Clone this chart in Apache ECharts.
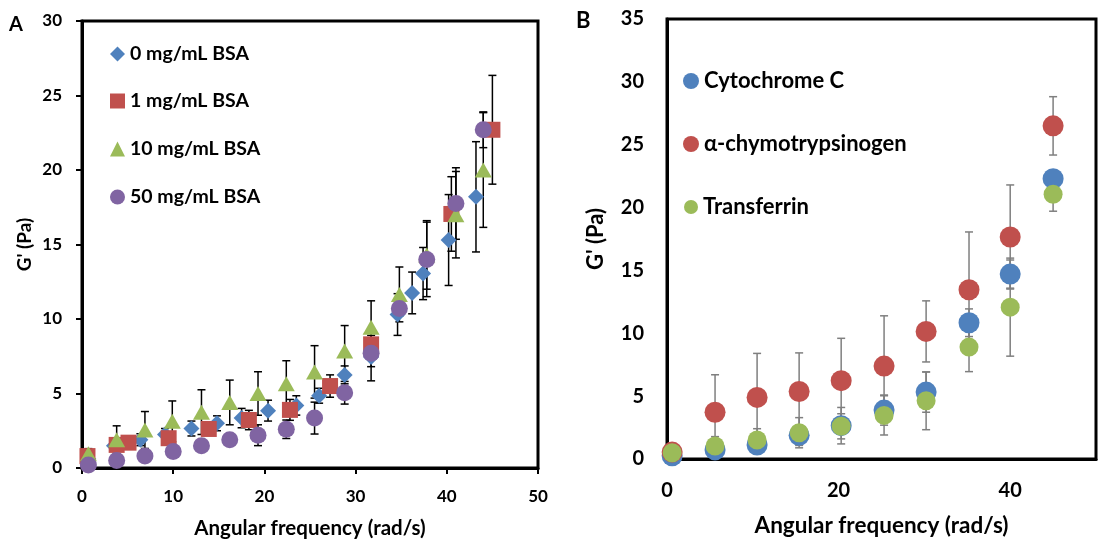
<!DOCTYPE html>
<html><head><meta charset="utf-8">
<script src="https://cdn.jsdelivr.net/npm/echarts@6/dist/echarts.min.js"></script>
<style>html,body{margin:0;padding:0;background:#fff}#c{width:1099px;height:544px}</style>
</head><body><div id="c"></div>
<script>
// ---------- Panel A: G' vs angular frequency at BSA concentrations ----------
const seriesNamesA = ['0 mg/mL BSA', '1 mg/mL BSA', '10 mg/mL BSA', '50 mg/mL BSA'];
const xTicksA = [0, 10, 20, 30, 40, 50];
const yTicksA = [0, 5, 10, 15, 20, 25, 30];

const freqA0 = [0.7, 3.5, 6.4, 9.1, 12.0, 14.8, 17.5, 20.4, 23.5, 26.0, 28.8, 31.7, 34.6, 36.2, 37.4, 40.2, 43.2];
const gA0    = [0.6, 1.5, 1.9, 2.25, 2.65, 3.0, 3.35, 3.85, 4.2, 4.85, 6.25, 7.45, 10.3, 11.75, 13.05, 15.3, 18.2];
const errA0  = [0.2, 0.3, 0.4, 0.4, 0.5, 0.5, 0.65, 0.7, 0.65, 0.5, 0.6, 1.6, 1.4, 1.4, 1.75, 3.05, 3.7];

const freqA1 = [0.6, 3.8, 5.1, 9.5, 13.9, 18.3, 22.8, 27.2, 31.7, 40.5, 45.0];
const gA1    = [0.8, 1.55, 1.7, 2.0, 2.62, 3.22, 3.9, 5.5, 8.3, 17.05, 22.7];
const errA1  = [0.4, 0.3, 0.3, 0.3, 0.35, 0.65, 0.7, 0.75, 0.6, 2.5, 3.65];

const freqA10 = [0.7, 3.8, 6.9, 9.9, 13.1, 16.2, 19.3, 22.4, 25.5, 28.8, 31.7, 34.8, 37.8, 41.0, 44.0];
const gA10    = [0.95, 1.9, 2.55, 3.13, 3.75, 4.4, 5.0, 5.65, 6.45, 7.85, 9.45, 11.65, 14.3, 17.0, 20.0];
const errA10  = [0.35, 0.93, 1.24, 1.37, 1.5, 1.5, 1.46, 1.55, 1.76, 1.71, 1.77, 1.84, 2.3, 2.9, 3.85];

const freqA50 = [0.7, 3.8, 6.9, 10.0, 13.1, 16.2, 19.3, 22.4, 25.5, 28.8, 31.7, 34.8, 37.8, 41.0, 44.0];
const gA50    = [0.2, 0.5, 0.8, 1.1, 1.5, 1.9, 2.2, 2.6, 3.35, 5.05, 7.7, 10.7, 14.0, 17.75, 22.7];
const errA50  = [0.2, 0.3, 0.3, 0.3, 0.3, 0.35, 0.7, 0.62, 1.07, 0.76, 0.9, 0.5, 2.5, 2.4, 1.2];

// ---------- Panel B: G' vs angular frequency for proteins ----------
const seriesNamesB = ['Cytochrome C', 'α-chymotrypsinogen', 'Transferrin'];
const xTicksB = [0, 20, 40];
const yTicksB = [0, 5, 10, 15, 20, 25, 30, 35];

const freqB     = [0.6, 5.6, 10.5, 15.4, 20.3, 25.3, 30.2, 35.2, 40.0, 45.0];
const cytC      = [0.25, 0.72, 1.11, 1.88, 2.65, 3.89, 5.32, 10.84, 14.71, 22.3];
const cytCErr   = [0.2, 0.4, 0.5, 0.8, 1.45, 1.2, 1.6, 1.1, 1.12, 0.6];
const chymo     = [0.55, 3.72, 4.9, 5.37, 6.23, 7.39, 10.15, 13.46, 17.66, 26.5];
const chymoErr  = [0.2, 2.98, 3.5, 3.07, 3.37, 4.0, 2.43, 4.6, 4.14, 2.32];
const transf    = [0.5, 1.03, 1.51, 2.09, 2.6, 3.47, 4.63, 8.9, 12.08, 21.06];
const transfErr = [0.2, 0.75, 0.9, 1.2, 1.0, 1.56, 2.3, 1.95, 3.9, 1.35];

const panelLabels = ['A', 'B'];

const colors = { blue: '#4F81BD', red: '#C0504D', green: '#9BBB59', purple: '#8064A2' };
const FONT = 'Lato';

function pts(x, y) { return x.map((v, i) => [v, y[i]]); }
function errPts(x, y, e) { return x.map((v, i) => [v, y[i], e[i]]); }

function errRenderer(color, lw, hw) {
  return function (params, api) {
    const x = api.value(0), y = api.value(1), e = api.value(2);
    const t = api.coord([x, y + e]);
    const b = api.coord([x, y - e]);
    const st = { stroke: color, lineWidth: lw };
    return {
      type: 'group',
      children: [
        { type: 'line', shape: { x1: t[0], y1: t[1], x2: b[0], y2: b[1] }, style: st },
        { type: 'line', shape: { x1: t[0] - hw, y1: t[1], x2: t[0] + hw, y2: t[1] }, style: st },
        { type: 'line', shape: { x1: b[0] - hw, y1: b[1], x2: b[0] + hw, y2: b[1] }, style: st }
      ]
    };
  };
}

function errSeries(name, xi, yi, data, color, lw, hw) {
  return {
    type: 'custom', name: name, xAxisIndex: xi, yAxisIndex: yi, clip: true,
    renderItem: errRenderer(color, lw, hw), encode: { x: 0, y: 1 }, data: data, silent: true
  };
}
function scatterSeries(name, xi, yi, data, color, symbol, size) {
  return {
    type: 'scatter', name: name, xAxisIndex: xi, yAxisIndex: yi, data: data,
    symbol: symbol, symbolSize: size, itemStyle: { color: color, opacity: 1 }, silent: true
  };
}

function legendItem(name, left, top, w, h, fs) {
  return {
    data: [name], left: left, top: top, orient: 'vertical', itemWidth: w, itemHeight: h,
    padding: 0, itemGap: 0, selectedMode: false,
    textStyle: { fontFamily: FONT, fontWeight: 'bold', fontSize: fs, color: '#000' }
  };
}

const labelStyle = (fs) => ({ fontFamily: FONT, fontWeight: 'bold', fontSize: fs, color: '#000' });

const option = {
  animation: false,
  backgroundColor: '#fff',
  graphic: [
    { type: 'text', left: 9, top: 15, style: { text: panelLabels[0], fontSize: 20, fontWeight: 'bold', fontFamily: FONT, fill: '#000' } },
    { type: 'text', left: 576, top: 10, style: { text: panelLabels[1], fontSize: 22, fontWeight: 'bold', fontFamily: FONT, fill: '#000' } }
  ],
  grid: [
    { left: 82, right: 561, top: 21, bottom: 72, show: true, borderColor: '#000', borderWidth: 3, backgroundColor: 'transparent', containLabel: false },
    { left: 667, right: -8, top: 19, bottom: 85, show: true, borderColor: '#000', borderWidth: 3, backgroundColor: 'transparent', containLabel: false }
  ],
  xAxis: [
    {
      gridIndex: 0, type: 'value', min: 0, max: 50, interval: 10,
      name: 'Angular frequency (rad/s)', nameLocation: 'middle', nameGap: 50,
      nameTextStyle: labelStyle(20.5),
      axisLine: { show: true, lineStyle: { color: '#000', width: 3 } },
      axisTick: { show: true, inside: false, length: 6, lineStyle: { color: '#000', width: 2 } },
      axisLabel: { margin: 20, ...labelStyle(17), formatter: v => xTicksA.includes(v) ? String(v) : '' },
      splitLine: { show: false }
    },
    {
      gridIndex: 1, type: 'value', min: 0, max: 50, interval: 20,
      name: 'Angular frequency (rad/s)', nameLocation: 'middle', nameGap: 55,
      nameTextStyle: labelStyle(22.5),
      axisLine: { show: true, lineStyle: { color: '#000', width: 3 } },
      axisTick: { show: false },
      axisLabel: { margin: 22, ...labelStyle(20), formatter: v => xTicksB.includes(v) ? String(v) : '' },
      splitLine: { show: false }
    }
  ],
  yAxis: [
    {
      gridIndex: 0, type: 'value', min: 0, max: 30, interval: 5,
      name: "G' (Pa)", nameLocation: 'middle', nameGap: 48, nameRotate: 90,
      nameTextStyle: labelStyle(19),
      axisLine: { show: true, lineStyle: { color: '#000', width: 3 } },
      axisTick: { show: true, inside: false, length: 6, lineStyle: { color: '#000', width: 2 } },
      axisLabel: { margin: 20, ...labelStyle(17), formatter: v => yTicksA.includes(v) ? String(v) : '' },
      splitLine: { show: false }
    },
    {
      gridIndex: 1, type: 'value', min: 0, max: 35, interval: 5,
      name: "G' (Pa)", nameLocation: 'middle', nameGap: 60, nameRotate: 90,
      nameTextStyle: labelStyle(22),
      axisLine: { show: true, lineStyle: { color: '#000', width: 3 } },
      axisTick: { show: false },
      axisLabel: { margin: 23, ...labelStyle(20), formatter: v => yTicksB.includes(v) ? String(v) : '' },
      splitLine: { show: false }
    }
  ],
  legend: [
    legendItem(seriesNamesA[0], 110, 44, 15, 15, 19.5),
    legendItem(seriesNamesA[1], 110, 91, 15, 15, 19.5),
    legendItem(seriesNamesA[2], 110, 139, 15, 15, 19.5),
    legendItem(seriesNamesA[3], 110, 187, 15, 15, 19.5),
    legendItem(seriesNamesB[0], 683, 70, 16, 16, 22),
    legendItem(seriesNamesB[1], 683, 133, 16, 16, 22),
    legendItem(seriesNamesB[2], 684, 196, 14, 14, 22)
  ],
  series: [
    errSeries('errA0', 0, 0, errPts(freqA0, gA0, errA0), '#000', 1.5, 4),
    scatterSeries(seriesNamesA[0], 0, 0, pts(freqA0, gA0), colors.blue, 'diamond', 16),
    errSeries('errA1', 0, 0, errPts(freqA1, gA1, errA1), '#000', 1.5, 4),
    scatterSeries(seriesNamesA[1], 0, 0, pts(freqA1, gA1), colors.red, 'rect', 16),
    errSeries('errA10', 0, 0, errPts(freqA10, gA10, errA10), '#000', 1.5, 4),
    scatterSeries(seriesNamesA[2], 0, 0, pts(freqA10, gA10), colors.green, 'triangle', [17, 15]),
    errSeries('errA50', 0, 0, errPts(freqA50, gA50, errA50), '#000', 1.5, 4),
    scatterSeries(seriesNamesA[3], 0, 0, pts(freqA50, gA50), colors.purple, 'circle', 17),

    errSeries('errB0', 1, 1, errPts(freqB, cytC, cytCErr), '#7F7F7F', 1.5, 4),
    scatterSeries(seriesNamesB[0], 1, 1, pts(freqB, cytC), colors.blue, 'circle', 21),
    errSeries('errB1', 1, 1, errPts(freqB, chymo, chymoErr), '#7F7F7F', 1.5, 4),
    scatterSeries(seriesNamesB[1], 1, 1, pts(freqB, chymo), colors.red, 'circle', 21),
    errSeries('errB2', 1, 1, errPts(freqB, transf, transfErr), '#7F7F7F', 1.5, 4),
    scatterSeries(seriesNamesB[2], 1, 1, pts(freqB, transf), colors.green, 'circle', 19)
  ]
};

const chart = echarts.init(document.getElementById('c'), null, { renderer: 'canvas' });
chart.setOption(option);
</script>
</body></html>
